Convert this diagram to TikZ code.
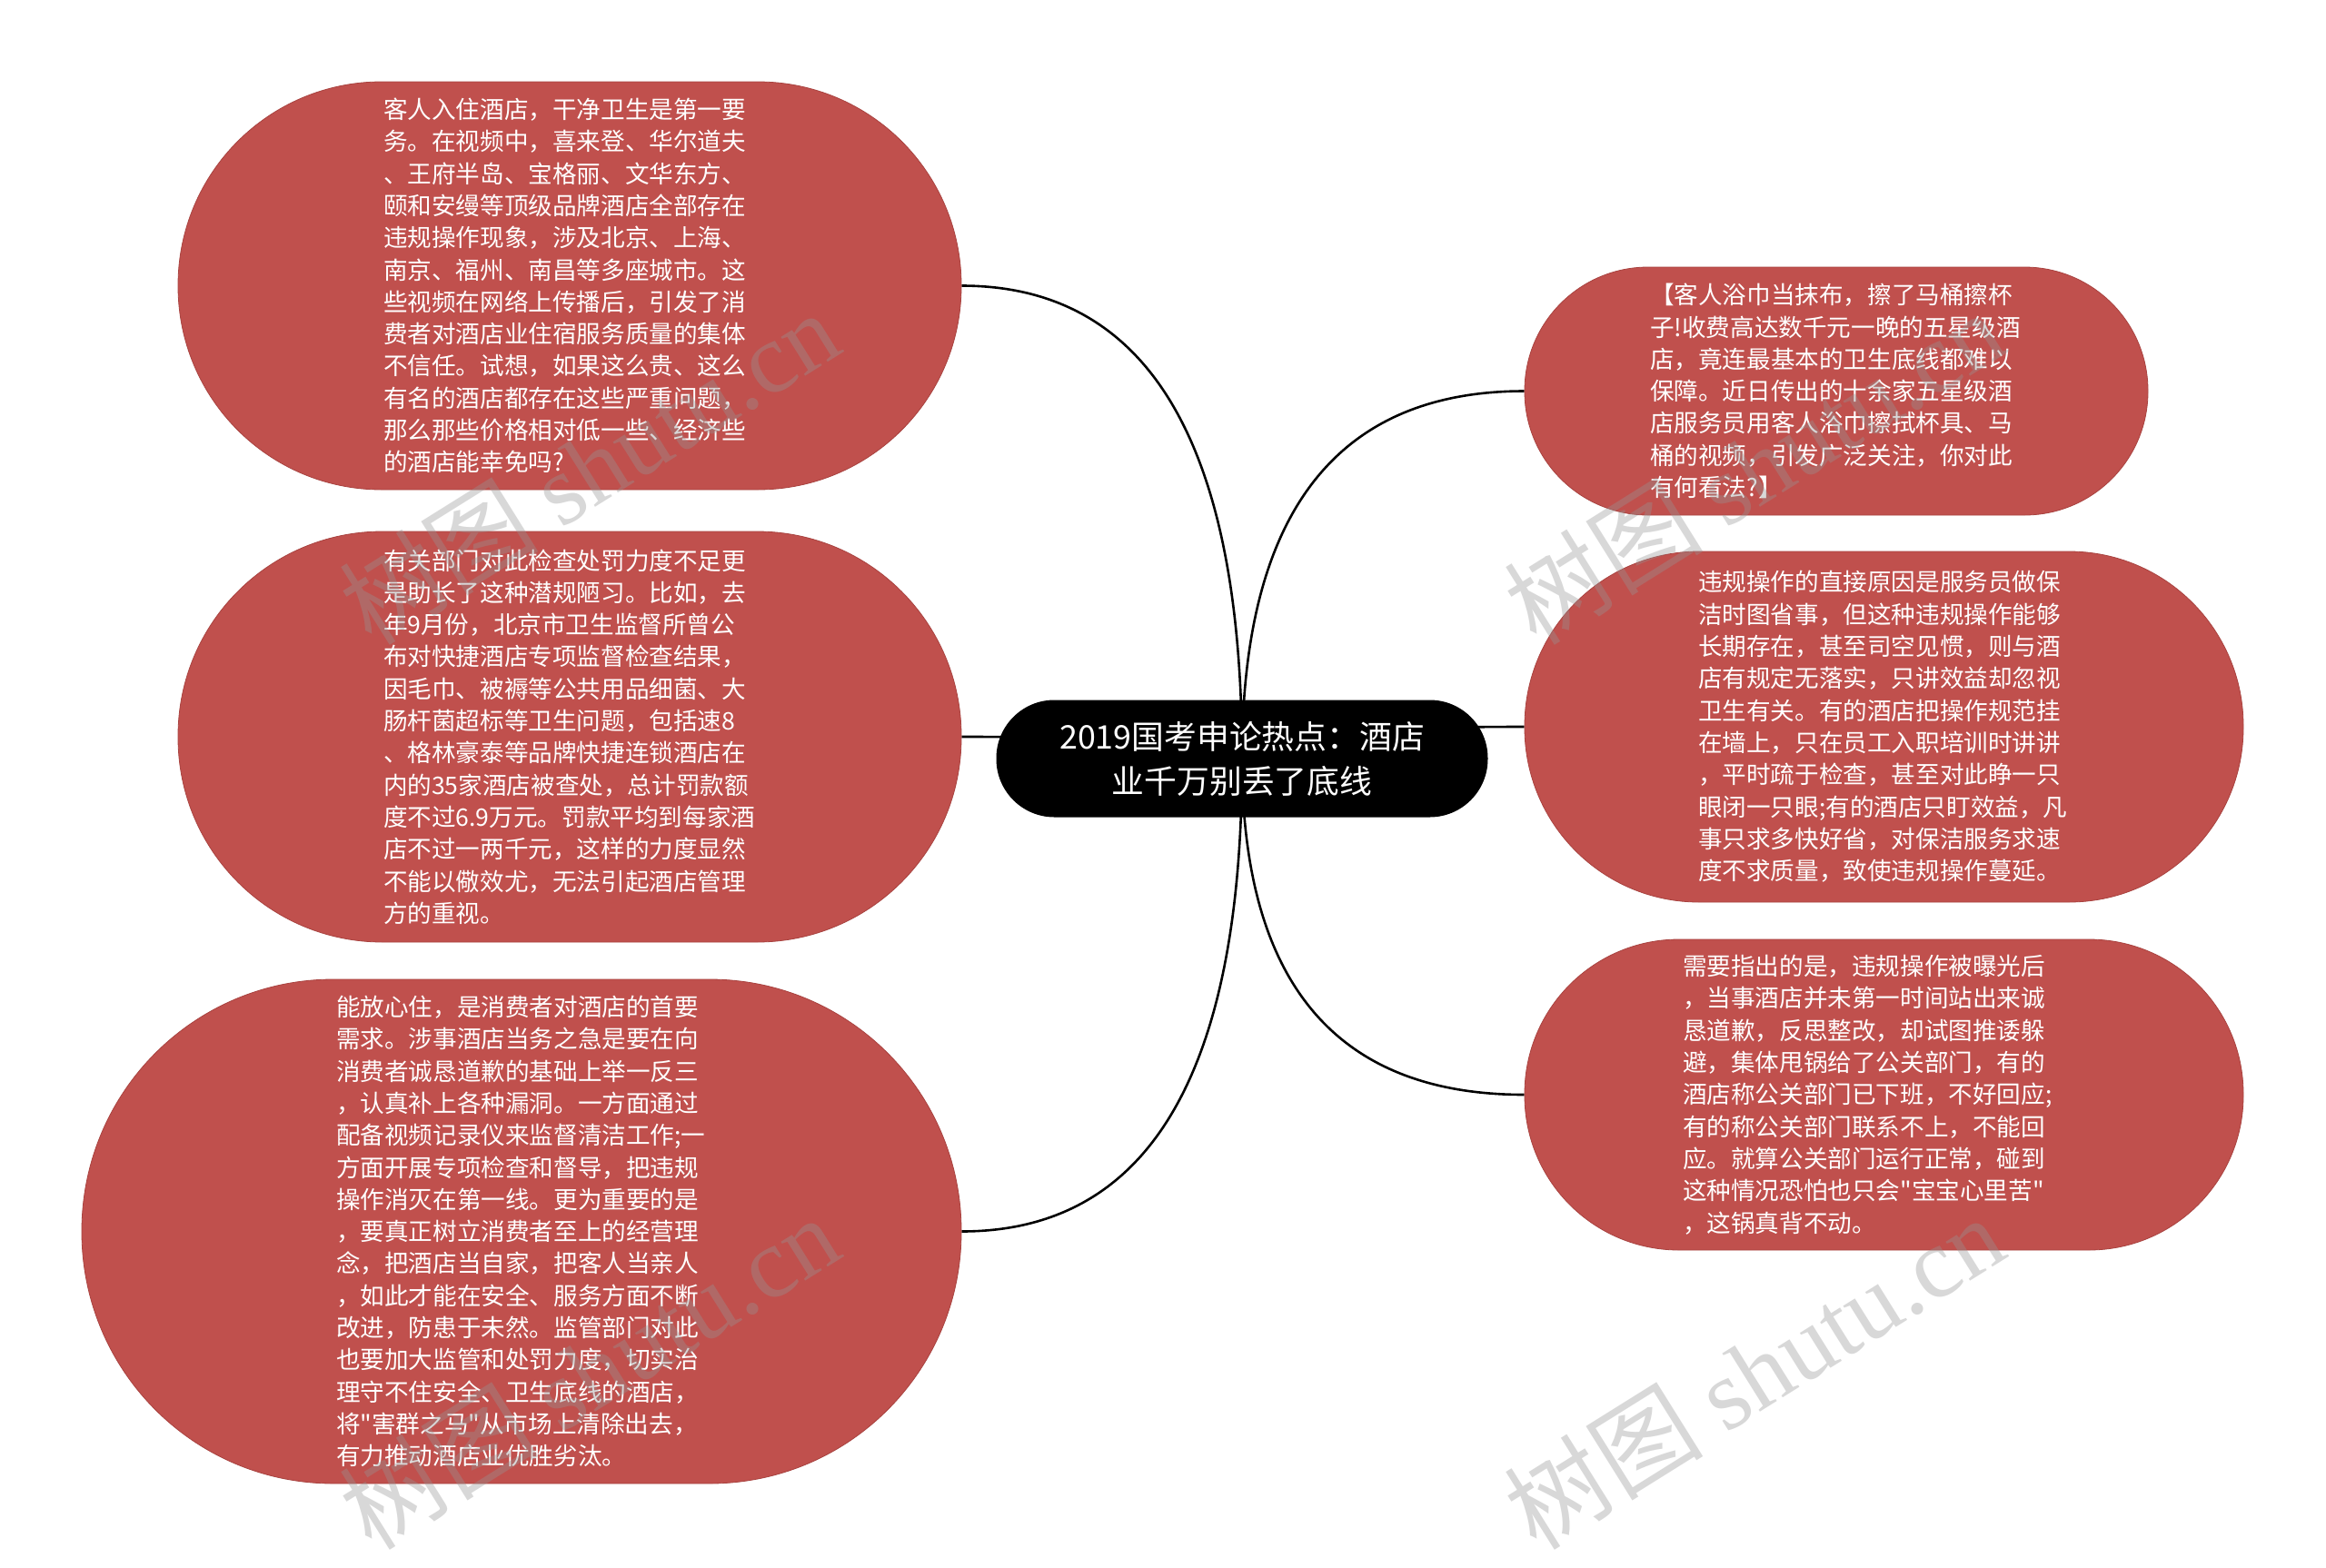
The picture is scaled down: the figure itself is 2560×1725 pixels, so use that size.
\documentclass[tikz,border=0pt]{standalone}
\usepackage{fontspec}
\setmainfont{Noto Sans CJK SC}[Ligatures=TeXOff]
\newfontfamily\wmlatin{Liberation Serif}
\usetikzlibrary{calc,backgrounds}
\definecolor{nodered}{RGB}{192,80,77}
\definecolor{nodeline}{RGB}{168,66,63}
\definecolor{wmgray}{RGB}{150,150,150}
\tikzset{
  leaf/.style={fill=nodered, draw=nodeline, line width=0.4pt, text=white, align=left,
    inner sep=0pt, text width=205pt, font=\fontsize{13.3pt}{17.65pt}\selectfont},
  rootbox/.style={fill=black, text=white, align=center, inner sep=0pt,
    minimum width=270.5pt, minimum height=64.5pt, rounded corners=32pt,
    font=\fontsize{17.9pt}{24.5pt}\selectfont},
  link/.style={draw=black, line width=1.3pt},
  wmark/.style={text=wmgray, opacity=0.37, rotate=32, inner sep=0pt,
    font=\fontsize{55pt}{60pt}\selectfont}
}
\newcommand\mmlink[2]{%
  \coordinate (k#2) at (#1 -| root.center);
  \draw[link] (#1) .. controls ($(#1)!0.6667!(k#2)$) and ($(root.center)!0.6667!(k#2)$) .. (root.center);}
\begin{document}
\begin{tikzpicture}[x=0.5pt,y=-0.5pt]
\useasboundingbox (0,0) rectangle (2560,1725);

\node[rootbox] (root) at (1367,835) {2019国考申论热点：酒店\\业千万别丢了底线};

\node[leaf, minimum width=431pt, minimum height=224.5pt, rounded corners=112pt] (tl) at (627,314.5) {客人入住酒店，干净卫生是第一要\\务。在视频中，喜来登、华尔道夫\\、王府半岛、宝格丽、文华东方、\\颐和安缦等顶级品牌酒店全部存在\\违规操作现象，涉及北京、上海、\\南京、福州、南昌等多座城市。这\\些视频在网络上传播后，引发了消\\费者对酒店业住宿服务质量的集体\\不信任。试想，如果这么贵、这么\\有名的酒店都存在这些严重问题，\\那么那些价格相对低一些、经济些\\的酒店能幸免吗?};

\node[leaf, minimum width=431pt, minimum height=226pt, rounded corners=112.5pt] (ml) at (627,811) {有关部门对此检查处罚力度不足更\\是助长了这种潜规陋习。比如，去\\年9月份，北京市卫生监督所曾公\\布对快捷酒店专项监督检查结果，\\因毛巾、被褥等公共用品细菌、大\\肠杆菌超标等卫生问题，包括速8\\、格林豪泰等品牌快捷连锁酒店在\\内的35家酒店被查处，总计罚款额\\度不过6.9万元。罚款平均到每家酒\\店不过一两千元，这样的力度显然\\不能以儆效尤，无法引起酒店管理\\方的重视。};

\node[leaf, text width=204pt, minimum width=484pt, minimum height=277.5pt, rounded corners=138.5pt] (bl) at (574,1355.5) {能放心住，是消费者对酒店的首要\\需求。涉事酒店当务之急是要在向\\消费者诚恳道歉的基础上举一反三\\，认真补上各种漏洞。一方面通过\\配备视频记录仪来监督清洁工作;一\\方面开展专项检查和督导，把违规\\操作消灭在第一线。更为重要的是\\，要真正树立消费者至上的经营理\\念，把酒店当自家，把客人当亲人\\，如此才能在安全、服务方面不断\\改进，防患于未然。监管部门对此\\也要加大监管和处罚力度，切实治\\理守不住安全、卫生底线的酒店，\\将"害群之马"从市场上清除出去，\\有力推动酒店业优胜劣汰。};

\node[leaf, minimum width=343pt, minimum height=136.5pt, rounded corners=68pt] (tr) at (2021,430.5) {【客人浴巾当抹布，擦了马桶擦杯\\子!收费高达数千元一晚的五星级酒\\店，竟连最基本的卫生底线都难以\\保障。近日传出的十余家五星级酒\\店服务员用客人浴巾擦拭杯具、马\\桶的视频，引发广泛关注，你对此\\有何看法?】};

\node[leaf, text width=204.5pt, minimum width=395.5pt, minimum height=193pt, rounded corners=96pt] (mr) at (2073.5,800) {违规操作的直接原因是服务员做保\\洁时图省事，但这种违规操作能够\\长期存在，甚至司空见惯，则与酒\\店有规定无落实，只讲效益却忽视\\卫生有关。有的酒店把操作规范挂\\在墙上，只在员工入职培训时讲讲\\，平时疏于检查，甚至对此睁一只\\眼闭一只眼;有的酒店只盯效益，凡\\事只求多快好省，对保洁服务求速\\度不求质量，致使违规操作蔓延。};

\node[leaf, text width=221.5pt, minimum width=395.5pt, minimum height=171pt, rounded corners=85pt] (br) at (2073.5,1205) {需要指出的是，违规操作被曝光后\\，当事酒店并未第一时间站出来诚\\恳道歉，反思整改，却试图推诿躲\\避，集体甩锅给了公关部门，有的\\酒店称公关部门已下班，不好回应;\\有的称公关部门联系不上，不能回\\应。就算公关部门运行正常，碰到\\这种情况恐怕也只会"宝宝心里苦"\\，这锅真背不动。};

\begin{scope}[on background layer]
  \fill[white] (0,0) rectangle (2560,1725);
  \mmlink{tl.east}{a}
  \mmlink{ml.east}{b}
  \mmlink{bl.east}{c}
  \mmlink{tr.west}{d}
  \mmlink{mr.west}{e}
  \mmlink{br.west}{f}
\end{scope}

\node[wmark] (w1) at (648,514) {树图 {\wmlatin shutu.cn}};
\node[wmark] (w2) at (1930,514) {树图 {\wmlatin shutu.cn}};
\node[wmark] (w3) at (648,1510) {树图 {\wmlatin shutu.cn}};
\node[wmark] (w4) at (1930,1510) {树图 {\wmlatin shutu.cn}};
\end{tikzpicture}
\end{document}
